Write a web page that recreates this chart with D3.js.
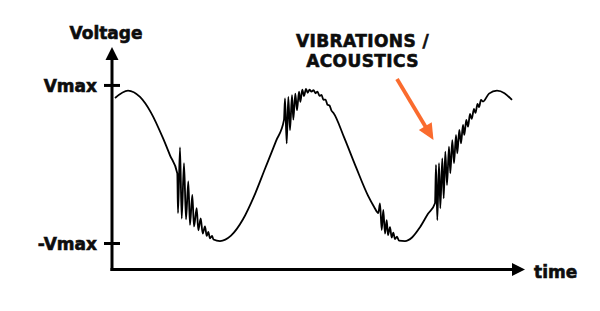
<!DOCTYPE html>
<html>
<head>
<meta charset="utf-8">
<script src="https://cdn.jsdelivr.net/npm/d3@7/dist/d3.min.js"></script>
<style>
  html, body { margin: 0; padding: 0; background: #fff; }
  svg { display: block; }
  text { font-family: 'DejaVu Sans', sans-serif; font-weight: bold; fill: #0d0d0d; stroke: #0d0d0d; stroke-width: 0.6px; }
</style>
</head>
<body>
<svg class="chart" width="600" height="311"></svg>
<script>
// signal: [time, voltage] with Vmax = 1
const waveStart = [[3, 0.835], [16, 0.928], [28, 0.848], [39, 0.65], [51, 0.326], [58, 0.11], [65.3, -0.118]];
const burstFalling = [[66, -0.62], [68, 0.21], [69.7, -0.69], [72, 0.01], [74, -0.70], [76.3, -0.22], [78, -0.77],
    [80.3, -0.39], [82, -0.79], [84.7, -0.56], [86.3, -0.84], [88.7, -0.69], [90.7, -0.88], [93, -0.79],
    [94.7, -0.91], [96.3, -0.86], [98, -0.94], [100, -0.91], [101.5, -0.955]];
const waveTrough = [[108, -0.975], [119, -0.907], [131, -0.70], [142, -0.41], [153, -0.06], [164, 0.29], [172, 0.557]];
const burstPeak = [[173, 0.83], [174.7, 0.26], [176.3, 0.85], [178, 0.43], [180, 0.87], [181.3, 0.56], [183.3, 0.89],
    [185, 0.68], [187, 0.915], [188.3, 0.785], [190.3, 0.94], [192, 0.86], [194, 0.95], [195.7, 0.90], [197.5, 0.94],
    [199.5, 0.915], [201.5, 0.935], [203.5, 0.895], [205.5, 0.915], [207.5, 0.862], [209.5, 0.873], [211.5, 0.812],
    [213.5, 0.815], [215.5, 0.75], [217.5, 0.74], [219.5, 0.675], [221.5, 0.645]];
const waveFalling = [[232, 0.34], [244, -0.04], [256, -0.40], [262, -0.54], [266.3, -0.62]];
const burstTrough = [[268, -0.50], [269.7, -0.835], [271.3, -0.58], [273, -0.88], [274.7, -0.71], [276, -0.90],
    [278, -0.80], [279.7, -0.93], [281.3, -0.87], [283, -0.95], [285, -0.92], [287, -0.97]];
const waveRising = [[293, -0.975], [300, -0.93], [308, -0.80], [316, -0.63], [323, -0.497]];
const burstRising = [[324, -0.013], [325.3, -0.71], [327, 0.01], [328.3, -0.56], [330.3, 0.072], [331.7, -0.434],
    [333.3, 0.156], [335, -0.266], [337, 0.219], [338.3, -0.118], [340.3, 0.30], [342, 0.009], [344, 0.367],
    [345.3, 0.135], [347.3, 0.43], [349, 0.262], [351, 0.494], [352.3, 0.367], [354.3, 0.557], [356, 0.472],
    [358, 0.633], [359.7, 0.57], [362, 0.696], [363.5, 0.646], [365.5, 0.76], [367, 0.72], [369, 0.81], [371, 0.79]];
const waveEnd = [[377, 0.89], [385, 0.928], [392.5, 0.896], [400, 0.81]];

const yTickValues = [1, -1];
const yTickLabels = ['Vmax', '-Vmax'];
const yAxisTitle = 'Voltage';
const xAxisTitle = 'time';
const noteLines = ['VIBRATIONS /', 'ACOUSTICS'];
const noteAnchor = [250.5, 1.485];
const noteArrow = [[285, 1.076], [321.5, 0.304]];

const timeDomain = [0, 413];
const voltageDomain = [-1.335, 1.48];

const svg = d3.select('.chart');
const xs = d3.scaleLinear().domain(timeDomain).range([112, 525]);
const ys = d3.scaleLinear().domain(voltageDomain).range([269.5, 47]);

const signal = [].concat(waveStart, burstFalling, waveTrough, burstPeak, waveFalling,
    burstTrough, waveRising, burstRising, waveEnd);

// axes with arrow heads
const x0 = xs(timeDomain[0]);
const y0 = ys(voltageDomain[0]);
const xTip = xs(timeDomain[1]);
const yTip = ys(voltageDomain[1]);
const headLen = 13;
const headHalf = 6.5;

svg.append('line')
    .attr('x1', x0).attr('y1', y0 + 1.5)
    .attr('x2', x0).attr('y2', yTip + headLen - 1)
    .attr('stroke', '#000').attr('stroke-width', 3);
svg.append('path')
    .attr('d', `M${x0},${yTip}L${x0 - headHalf},${yTip + headLen}L${x0 + headHalf},${yTip + headLen}Z`)
    .attr('fill', '#000');

svg.append('line')
    .attr('x1', x0 - 1.5).attr('y1', y0)
    .attr('x2', xTip - headLen + 1).attr('y2', y0)
    .attr('stroke', '#000').attr('stroke-width', 3);
svg.append('path')
    .attr('d', `M${xTip},${y0}L${xTip - headLen},${y0 - headHalf}L${xTip - headLen},${y0 + headHalf}Z`)
    .attr('fill', '#000');

const yAxisG = svg.append('g')
    .attr('transform', `translate(${x0},0)`)
    .call(d3.axisLeft(ys).tickValues(yTickValues).tickFormat((d, i) => yTickLabels[i]).tickSize(8).tickPadding(7));
yAxisG.select('.domain').remove();
yAxisG.attr('font-family', null).attr('font-size', null);
yAxisG.selectAll('.tick line').attr('x1', 8).attr('stroke', '#000').attr('stroke-width', 3);
yAxisG.selectAll('.tick text')
    .attr('fill', '#0d0d0d')
    .attr('dy', '0.4em')
    .style('font-size', '17px');

svg.append('text')
    .attr('x', x0 - 6)
    .attr('y', yTip - 8)
    .attr('text-anchor', 'middle')
    .style('font-size', '17px')
    .text(yAxisTitle);

svg.append('text')
    .attr('x', xTip + 9)
    .attr('y', y0 + 8)
    .attr('text-anchor', 'start')
    .style('font-size', '17px')
    .text(xAxisTitle);

// the signal
const line = d3.line()
    .x(d => xs(d[0]))
    .y(d => ys(d[1]))
    .curve(d3.curveMonotoneX);

svg.append('path')
    .datum(signal)
    .attr('d', line)
    .attr('fill', 'none')
    .attr('stroke', '#000')
    .attr('stroke-width', 1.8)
    .attr('stroke-linejoin', 'round');

// annotation
svg.append('g')
    .selectAll('text')
    .data(noteLines)
    .enter()
    .append('text')
    .attr('x', xs(noteAnchor[0]))
    .attr('y', (d, i) => ys(noteAnchor[1]) + i * 20)
    .attr('text-anchor', 'middle')
    .style('font-size', '17px')
    .style('letter-spacing', '0.4px')
    .text(d => d);

const ax1 = xs(noteArrow[0][0]), ay1 = ys(noteArrow[0][1]);
const ax2 = xs(noteArrow[1][0]), ay2 = ys(noteArrow[1][1]);
const ang = Math.atan2(ay2 - ay1, ax2 - ax1);
const aHead = 16, aHalf = 7.5;
const bx = ax2 - aHead * Math.cos(ang), by = ay2 - aHead * Math.sin(ang);
svg.append('line')
    .attr('x1', ax1).attr('y1', ay1)
    .attr('x2', bx + 2 * Math.cos(ang)).attr('y2', by + 2 * Math.sin(ang))
    .attr('stroke', '#fa6b2e').attr('stroke-width', 3.8);
svg.append('path')
    .attr('d', `M${ax2},${ay2}L${bx - aHalf * Math.sin(ang)},${by + aHalf * Math.cos(ang)}L${bx + aHalf * Math.sin(ang)},${by - aHalf * Math.cos(ang)}Z`)
    .attr('fill', '#fa6b2e');
</script>
</body>
</html>
